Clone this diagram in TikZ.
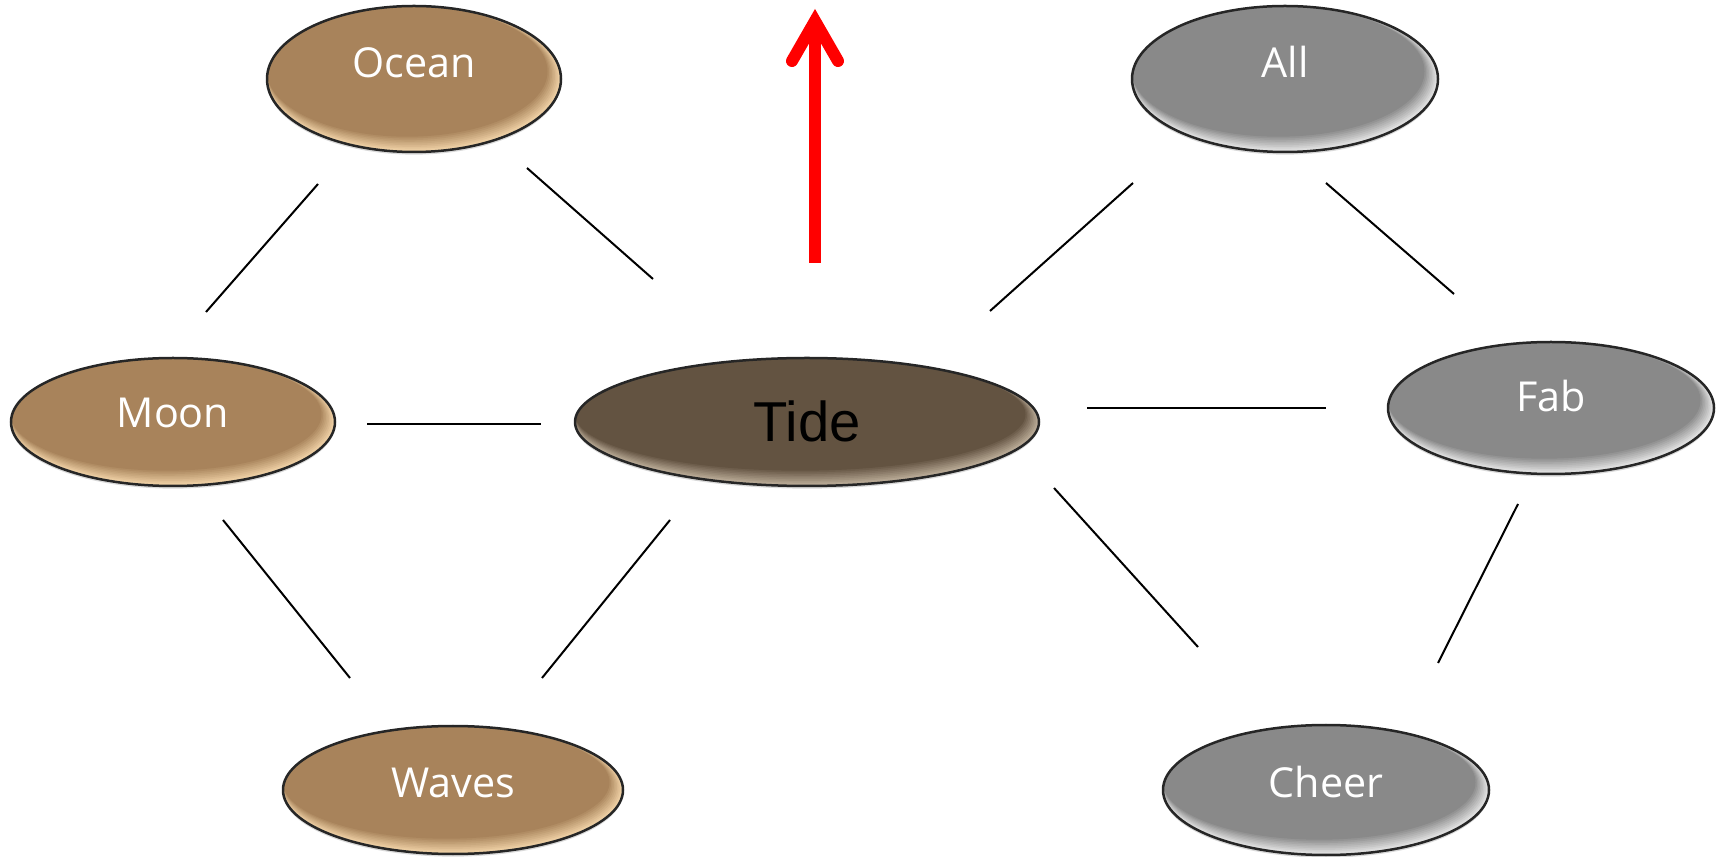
\documentclass[tikz,border=0pt]{standalone}
\usepackage{fontspec}
\newfontfamily\lblfont{Open Sans}
\newfontfamily\tidefont{Liberation Sans}
\usetikzlibrary{shapes.geometric,shadows}
\newdimen\pxu \pxu=0.02cm
\definecolor{tanbase}{RGB}{168,131,91}
\definecolor{tanlight}{RGB}{242,212,168}
\definecolor{tidebase}{RGB}{99,83,65}
\definecolor{tidelight}{RGB}{190,175,155}
\definecolor{graybase}{RGB}{137,137,137}
\definecolor{graylight}{RGB}{230,230,230}
% glossy fill: light rim at the bottom right, base colour inside
\newcommand\glossfill[4]{%
  \fill[#2] (path picture bounding box.south west) rectangle (path picture bounding box.north east);
  \foreach \i in {1,...,9}{%
    \pgfmathsetmacro\dx{0.75*\i}%
    \pgfmathsetmacro\dy{0.85*\i}%
    \pgfmathtruncatemacro\pc{100*\i/9}%
    \fill[#1!\pc!#2] ([shift={(-\dx,-\dy)}]path picture bounding box.center)
      ellipse ({#3/2-\dx} and {#4/2-\dy});
  }%
}
\tikzset{
  btn/.style={ellipse, draw=black!85, line width=2.5\pxu, inner sep=0pt, outer sep=0pt,
    text=white, font=\lblfont\fontsize{23.5}{27}\selectfont,
    drop shadow={shadow xshift=0pt, shadow yshift=-1.5pt, opacity=0.3}},
  size/.style n args={2}{minimum width=#1\pxu, minimum height=#2\pxu},
  tanbtn/.style n args={2}{btn, size={#1}{#2}, path picture={\glossfill{tanbase}{tanlight}{#1}{#2}}},
  graybtn/.style n args={2}{btn, size={#1}{#2}, path picture={\glossfill{graybase}{graylight}{#1}{#2}}},
  tidebtn/.style n args={2}{btn, size={#1}{#2}, path picture={\glossfill{tidebase}{tidelight}{#1}{#2}},
    text=black, font=\tidefont\fontsize{32}{37}\selectfont},
  conn/.style={draw=black, line width=2\pxu},
  redshaft/.style={draw=red, line width=12\pxu},
  redhead/.style={draw=red, line width=12\pxu, line cap=round, line join=miter},
}
\newcommand{\lbl}[2]{\raisebox{#1\pxu}[0pt][0pt]{#2}}
\begin{document}
\begin{tikzpicture}[x=0.02cm, y=-0.02cm]
\useasboundingbox (0,0) rectangle (1721,857);
% nodes
\node[tanbtn={294}{146}] (Ocean) at (414,79) {\lbl{1}{Ocean}};
\node[graybtn={306}{146}] (All) at (1285,79) {\lbl{1}{All}};
\node[tanbtn={324}{128}] (Moon) at (173,422) {\lbl{-6}{Moon}};
\node[tidebtn={464}{128}] (Tide) at (807,422) {\lbl{-20}{Tide}};
\node[graybtn={326}{132}] (Fab) at (1551,408) {\lbl{-4}{Fab}};
\node[tanbtn={340}{128}] (Waves) at (453,790) {\lbl{-7}{Waves}};
\node[graybtn={326}{130}] (Cheer) at (1326,790) {\lbl{-7}{Cheer}};
% connector ends
\coordinate (om1) at (318,184); \coordinate (om2) at (206,312);
\coordinate (ot1) at (527,168); \coordinate (ot2) at (653,279);
\coordinate (mt1) at (367,424); \coordinate (mt2) at (541,424);
\coordinate (mw1) at (223,520); \coordinate (mw2) at (350,678);
\coordinate (tw1) at (670,520); \coordinate (tw2) at (542,678);
\coordinate (ta1) at (990,311); \coordinate (ta2) at (1133,183);
\coordinate (af1) at (1326,183); \coordinate (af2) at (1454,294);
\coordinate (tf1) at (1087,408); \coordinate (tf2) at (1326,408);
\coordinate (tc1) at (1054,488); \coordinate (tc2) at (1198,647);
\coordinate (fc1) at (1518,504); \coordinate (fc2) at (1438,663);
\draw[conn] (om1) -- (om2);
\draw[conn] (ot1) -- (ot2);
\draw[conn] (mt1) -- (mt2);
\draw[conn] (mw1) -- (mw2);
\draw[conn] (tw1) -- (tw2);
\draw[conn] (ta1) -- (ta2);
\draw[conn] (af1) -- (af2);
\draw[conn] (tf1) -- (tf2);
\draw[conn] (tc1) -- (tc2);
\draw[conn] (fc1) -- (fc2);
% red arrow
\coordinate (arrowtail) at (815,263);
\coordinate (arrowtip) at (815,21);
\coordinate (barbL) at (792,61);
\coordinate (barbR) at (838,61);
\draw[redshaft] (arrowtail) -- (arrowtip);
\draw[redhead] (barbL) -- (arrowtip) -- (barbR);
\end{tikzpicture}
\end{document}
